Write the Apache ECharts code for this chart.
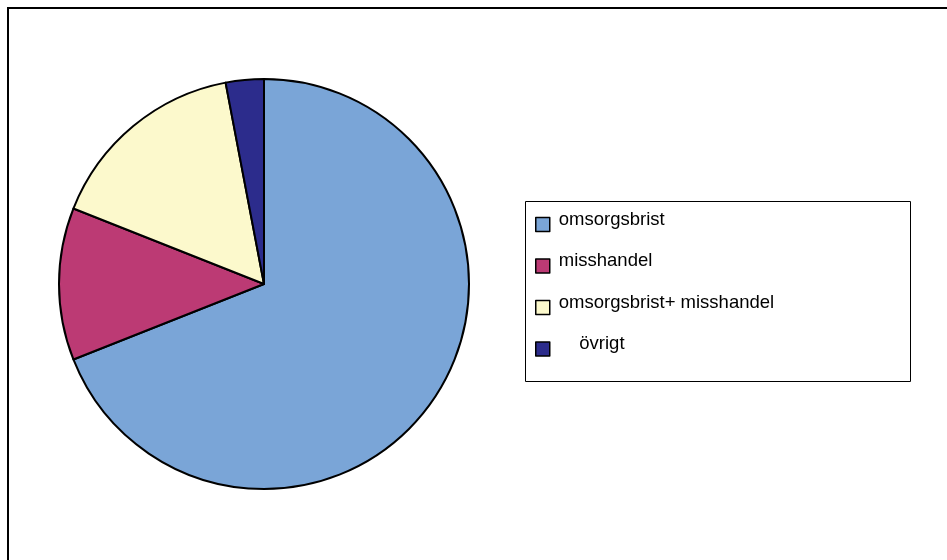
<!DOCTYPE html>
<html>
<head>
<meta charset="utf-8">
<script src="https://cdn.jsdelivr.net/npm/echarts@6/dist/echarts.min.js"></script>
<style>
  html, body { margin: 0; padding: 0; background: #fff; }
  #chart { width: 947px; height: 560px; }
</style>
</head>
<body>
<div id="chart"></div>
<script>
// kategorier och andelar (procent)
var categories = ['omsorgsbrist', 'misshandel', 'omsorgsbrist+ misshandel', 'övrigt'];
var values = [69, 12, 16, 3];
var colors = ['#7AA5D7', '#BC3A74', '#FCF9CC', '#2C2C8C'];

function loadChart(id, option) {
    var myChart = echarts.init(document.getElementById(id));
    myChart.setOption(option);
    return myChart;
}

var pieData = categories.map(function (name, i) {
    return { name: name, value: values[i], itemStyle: { color: colors[i] } };
});

var option = {
    animation: false,
    backgroundColor: '#fff',
    graphic: [
        // yttre ram
        { type: 'rect', shape: { x: 8, y: 8, width: 980, height: 600 },
          style: { fill: 'none', stroke: '#000', lineWidth: 2 }, silent: true },
        // legendruta
        { type: 'rect', shape: { x: 525.5, y: 201.5, width: 385, height: 180 },
          style: { fill: '#fff', stroke: '#000', lineWidth: 1 }, silent: true, z: -1 }
    ],
    legend: {
        orient: 'vertical',
        left: 535,
        top: 210,
        padding: 0,
        itemWidth: 14,
        itemHeight: 14,
        itemGap: 12.5,
        icon: 'rect',
        itemStyle: { borderColor: '#000', borderWidth: 1.5 },
        textStyle: {
            fontFamily: 'Liberation Sans, Arial, sans-serif',
            fontSize: 18.5,
            color: '#000',
            rich: {
                t: {
                    fontFamily: 'Liberation Sans, Arial, sans-serif',
                    fontSize: 18.5,
                    color: '#000',
                    lineHeight: 20,
                    padding: [0, 0, 10, 4]
                }
            }
        },
        formatter: function (name) {
            return '{t|' + (name === 'övrigt' ? '    ' + name : name) + '}';
        },
        data: categories
    },
    series: [{
        type: 'pie',
        center: [264, 284],
        radius: 205,
        startAngle: 90,
        clockwise: true,
        label: { show: false },
        labelLine: { show: false },
        emphasis: { disabled: true },
        itemStyle: { borderColor: '#000', borderWidth: 2 },
        data: pieData
    }]
};

loadChart('chart', option);
</script>
</body>
</html>
